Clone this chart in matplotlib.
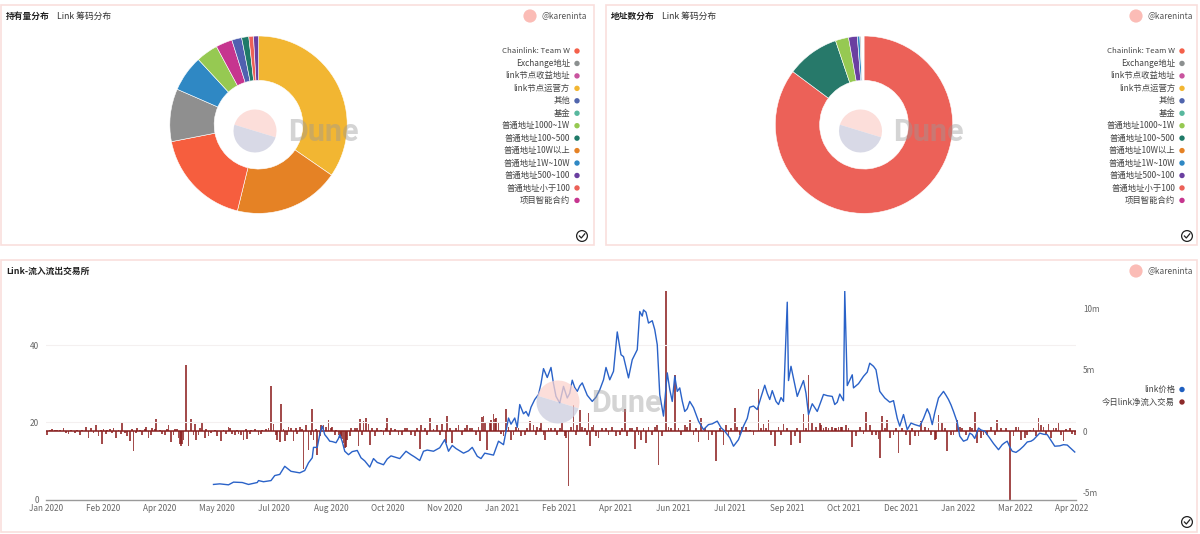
import matplotlib
matplotlib.use('Agg')
import matplotlib.pyplot as plt
from matplotlib.patches import Rectangle, Circle, Wedge

plt.rcParams['font.family'] = ['Noto Sans CJK SC', 'DejaVu Sans']

# ---------- data ----------
legend_names = ['Chainlink: Team W', 'Exchange地址', 'link节点收益地址', 'link节点运营方', '其他', '基金',
                '普通地址1000~1W', '普通地址100~500', '普通地址10W以上', '普通地址1W~10W',
                '普通地址500~100', '普通地址小于100', '项目智能合约']
legend_colors = ['#f4604a', '#8c9090', '#c9549f', '#f2b632', '#5065ad', '#58b89e', '#96c952',
                 '#1f7a68', '#e58225', '#2f88c4', '#6a3fa0', '#ec6158', '#c6358f']

pie1_values = [34.6, 19.2, 18.1, 9.6, 6.6, 4.0, 3.0, 1.8, 1.3, 0.85, 0.9]
pie1_colors = ['#f2b632', '#e58225', '#f65e3e', '#8f8f8f', '#2f88c4', '#96c952', '#c6358f',
               '#5060b0', '#1f7a68', '#ec6158', '#6a3fa0']
pie2_values = [85.2, 9.6, 2.4, 1.6, 0.45, 0.2, 0.55]
pie2_colors = ['#ec6158', '#27796a', '#96c952', '#6a3fa0', '#2f88c4', '#8f8f8f', '#ffffff']

x_tick_labels = ['Jan 2020', 'Feb 2020', 'Apr 2020', 'May 2020', 'Jul 2020', 'Aug 2020', 'Oct 2020',
                 'Nov 2020', 'Jan 2021', 'Feb 2021', 'Apr 2021', 'Jun 2021', 'Jul 2021', 'Sep 2021',
                 'Oct 2021', 'Dec 2021', 'Jan 2022', 'Mar 2022', 'Apr 2022']

price_day = [134, 139, 146, 150, 157, 162, 169, 170, 174, 180, 183, 187, 191, 196, 203, 207, 210, 213, 214, 217,
             219, 221, 223, 225, 227, 229, 232, 234, 235, 237, 239, 242, 245, 249, 252, 255, 259, 262, 265, 270, 273, 276, 279,
             283, 288, 292, 295, 299, 302, 305, 310, 315, 319,
             322, 325, 328, 334, 338, 341, 345, 348, 351, 355, 358, 362, 366, 370, 372, 375, 377, 379, 382, 384, 386, 388, 391, 394,
             396, 398, 401, 404, 406,
             408, 411, 414, 417, 419, 421, 423, 425, 427, 429, 433, 437, 440, 443, 446, 448, 451, 454, 457, 460, 462, 466, 469, 471, 473,
             475, 477, 478, 480,
             482, 485, 487, 489, 491, 494, 497, 499, 501, 503, 505, 507, 509, 511, 513, 515, 518, 522, 526, 530, 533, 537, 540, 543,
             547, 550, 554, 558, 561, 563, 566, 569,
             572, 575, 577, 579, 581, 584, 586, 588, 590, 593, 594, 596, 601, 603, 606, 608, 610, 613, 615, 617, 622, 625, 629, 631,
             633, 635, 638, 639,
             641, 645, 646, 650, 654, 657, 659, 662, 664, 667, 671, 675, 678, 681, 683, 686, 689, 692, 695, 699, 702, 705, 707, 709,
             711, 714, 718, 720, 722, 724, 726, 729,
             731, 734, 737, 739, 741, 743, 746, 748, 751, 755, 758, 762, 765, 767, 769, 771, 773, 776, 779, 782, 785, 788, 790, 795,
             798, 801, 804, 807, 811, 814, 817, 819, 821, 823]
price_val = [3.9, 4.05, 3.8, 4.5, 4.4, 3.9, 4.4, 4.9, 4.6, 4.9, 6.2, 6.5, 8.6, 7.3, 6.9, 7.5, 9.5, 10.8, 13.5, 13.5,
             16.8, 19.0, 16.8, 16.0, 15.1, 15.0, 14.7, 15.8, 16.8, 15.0, 12.5, 11.6, 12.4, 12.7, 10.8, 10.0, 8.4, 10.6, 9.6, 9.0, 10.5, 11.3, 11.0,
             10.6, 12.5, 11.6, 11.0, 10.1, 12.5, 12.8, 12.5, 13.4, 15.5,
             12.5, 14.0, 13.2, 12.0, 12.6, 13.5, 11.2, 10.6, 12.0, 11.7, 11.5, 15.1, 14.2, 21.1, 19.5, 21.1, 18.7, 24.6, 22.2, 22.8, 21.6, 23.9, 25.9, 27.2,
             30.0, 33.9, 31.6, 34.2, 30.0,
             26.7, 25.0, 29.3, 26.3, 27.5, 30.9, 29.0, 28.0, 29.4, 30.2, 27.0, 25.4, 26.5, 28.4, 31.0, 34.2, 31.0, 33.2, 43.4, 37.5, 37.0, 31.5, 36.2, 37.5, 38.8,
             48.7, 47.5, 49.1, 48.5,
             45.7, 46.3, 44.0, 40.1, 27.2, 21.6, 32.8, 28.5, 25.4, 31.9, 28.0, 28.9, 25.5, 22.8, 23.5, 25.4, 23.8, 20.3, 18.1, 19.4, 19.6, 20.3, 18.6, 17.7,
             16.0, 13.8, 15.5, 19.0, 21.0, 23.9, 24.2, 23.3,
             26.5, 29.6, 27.5, 25.9, 28.2, 25.4, 24.6, 26.4, 25.4, 51.1, 30.8, 34.5, 26.7, 28.4, 30.8, 27.5, 22.0, 24.8, 23.8, 22.8, 27.2, 26.9, 26.7, 24.6,
             25.2, 27.3, 25.6, 54.0,
             29.5, 32.3, 28.9, 30.0, 31.9, 33.0, 35.3, 34.5, 33.6, 28.0, 26.3, 25.2, 25.6, 21.0, 19.0, 22.0, 18.1, 19.8, 19.4, 19.0, 21.0, 23.5, 22.0, 19.4,
             22.5, 26.3, 28.0, 27.0, 25.9, 24.5, 22.8, 20.0,
             16.4, 15.1, 15.5, 17.2, 16.8, 15.8, 18.5, 18.0, 17.7, 15.9, 14.5, 12.9, 14.2, 14.7, 15.1, 13.6, 12.5, 12.2, 12.9, 13.8, 14.9, 15.1, 15.5, 17.2,
             16.9, 16.8, 15.3, 13.8, 13.9, 14.2, 14.1, 13.5, 12.9, 12.3]

flow_day = [1, 14, 18, 27, 32, 34, 36, 40, 42, 45, 46, 49, 54, 56, 61, 65, 67, 69, 70, 73, 75, 77, 80, 82, 85, 88, 91,
            98, 100, 103, 106, 107, 108, 109, 110, 112, 114, 116, 119, 120, 123, 125, 127, 130, 137, 140, 146, 147, 151,
            154, 158, 161, 164, 170, 173, 176, 180, 182, 185, 187, 188, 191, 194, 196, 198, 203, 206, 208, 210, 213, 214,
            217, 220, 222, 224, 226, 229, 232, 235, 236, 237, 238, 239, 240, 241, 244, 250, 251, 254, 256, 258, 259, 263,
            268, 273, 276, 282, 287, 292, 299, 300, 307, 313, 317, 320, 321, 325, 330, 337, 341, 347, 349, 350, 351, 353,
            355, 358, 359, 360, 364, 368, 372, 376, 380, 387, 390, 393, 396, 399, 402, 407, 413, 416, 418, 422, 425, 427,
            431, 434, 435, 438, 442, 448, 456, 463, 467, 471, 473, 476, 480, 482, 489, 490, 496, 500, 503, 506, 511, 515,
            522, 524, 530, 536, 542, 544, 548, 551, 557, 563, 570, 574, 578, 583, 590, 596, 603, 606, 610, 613, 619, 620,
            626, 629, 634, 637, 640, 645, 654, 656, 659, 664, 666, 667, 669, 673, 675, 682, 685, 691, 695, 700, 706, 711,
            712, 714, 717, 721, 729, 733, 739, 743, 745, 748, 753, 761, 768, 771, 776, 780, 783, 787, 794, 796, 802, 804,
            810, 814, 819, 823]
flow_m = [-0.25, 0.3, -0.2, -0.3, 0.4, -0.5, 0.27, 0.5, -0.4, -1.0, 0.2, 0.13, 0.27, -0.5, 0.65, -0.4, -0.75, 0.2, -1.6,
          0.3, 0.15, -0.3, 0.4, -0.5, 0.3, 1.0, 0.13, 0.5, -0.85, 0.2, -0.5, -1.0, -1.2, -1.0, -0.7, 5.4, -1.2, 1.05, 0.6,
          -0.7, 0.3, 0.8, -0.5, -0.4, -0.4, -0.8, 0.4, 0.27, -0.3, -0.2, -0.7, -0.6, 0.15, -0.3, 0.13, 0.2, 3.7, 0.6, -0.7,
          -0.85, 2.2, -0.75, 0.4, 0.27, -0.8, 0.4, -3.05, 0.55, -1.5, 1.85, -0.7, -1.9, 0.5, 0.55, 0.4, 0.95, 0.4, 0.15,
          -0.5, -0.4, -0.6, -0.95, -1.35, -1.3, -0.7, 0.3, -1.2, 1.03, 0.85, 1.13, 0.6, -1.1, -0.4, 0.15, 1.08, 0.27, -0.3,
          0.3, -0.3, -1.4, 0.55, 1.08, 0.5, 0.6, -0.95, 1.25, -0.95, 0.55, 0.5, 0.27, -0.8, 1.2, 1.27, 0.8, -1.5, 0.68, 1.43,
          1.0, 1.08, -0.2, 1.8, -0.68, 0.4, -0.4, 0.87, 0.55, 0.4, 0.68, -0.7, 0.3, 0.27, 0.68, -0.55, -4.46, 2.16, 0.5, 1.73,
          0.3, 1.5, -1.2, 0.5, -0.5, 0.27, -0.4, 1.84, 0.27, -1.4, 0.4, -0.68, -0.95, 0.4, 0.55, -2.7, 11.4, 0.3, 4.6, 0.27,
          0.55, 0.95, -0.86, 1.08, -0.68, -2.38, -1.08, 0.55, 0.3, 1.9, 0.4, 0.1, 3.43, 0.6, 0.9, -1.2, 0.6, -1.08, -0.95, 1.43,
          4.6, 0.8, 0.68, 0.5, 0.3, 0.4, 0.4, 0.4, 0.5, -1.3, -0.2, 1.6, 0.55, -0.3, -0.6, -2.16, 1.27, 0.9, -0.5, -1.76, 0.3,
          -1.08, -0.4, 0.87, 0.27, -0.68, -0.6, 1.35, 0.68, -1.62, 0.9, 0.27, 0.4, 1.57, -0.95, -0.5, -0.3, 0.95, 0.3, -5.55,
          0.4, -0.68, -0.5, 0.13, 1.08, 0.55, 0.6, -0.5, 0.73, -0.8, 0.3, -0.3]

# smaller daily bars
small_day = [3, 5, 7, 9, 11, 16, 20, 23, 25, 29, 38, 44, 48, 51, 53, 58, 60, 63, 72, 79, 84, 87, 93, 95, 97, 102, 105, 118,
             122, 128, 132, 135, 142, 144, 149, 153, 156, 160, 163, 167, 172, 178, 184, 190, 193, 200, 201, 205, 212, 216,
             219, 228, 231, 234, 243, 247, 249, 253, 261, 265, 270, 272, 275, 279, 285, 289, 295, 297, 303, 305, 310, 315,
             323, 328, 333, 335, 339, 344, 346, 356, 362, 366, 370, 374, 378, 383, 385, 392, 395, 398, 404, 409, 411, 415,
             420, 424, 429, 433, 437, 440, 445, 450, 453, 459, 461, 465, 469, 474, 478, 485, 487, 493, 498, 508, 513, 518,
             520, 527, 533, 539, 546, 553, 555, 560, 566, 572, 576, 580, 586, 588, 593, 599, 601, 608, 616, 622, 624, 631,
             632, 636, 642, 648, 651, 661, 671, 678, 680, 688, 693, 698, 703, 708, 719, 724, 726, 731, 736, 741, 750, 756,
             759, 764, 774, 778, 785, 790, 792, 798, 800, 806, 808, 812, 816, 821]
small_m = [0.1, 0.2, 0.15, 0.15, 0.1, -0.15, 0.1, -0.1, 0.15, 0.12, -0.15, 0.12, -0.2, 0.2, -0.15, 0.15, -0.2, -0.15, -0.12, 0.2,
           -0.25, 0.2, -0.2, -0.3, 0.2, -0.25, 0.2, -0.25, -0.3, 0.2, -0.15, 0.1, 0.15, -0.2, -0.2, 0.15, -0.3, 0.2, -0.2, 0.2, -0.2,
           0.25, -0.3, 0.2, -0.25, 0.3, -0.2, 0.2, -0.3, 0.2, -0.4, 0.3, -0.25, -0.3, -0.4, 0.25, 0.3, -0.3, 0.25, 0.3, -0.25, 0.3, -0.3,
           0.2, -0.3, 0.25, -0.35, 0.3, 0.25, -0.3, 0.2, -0.3, 0.3, 0.25, -0.3, 0.3, 0.25, -0.3, 0.35, 0.9, 0.7, -0.35, 0.4, -0.3, 0.3,
           -0.3, 0.25, -0.3, 0.25, -0.3, 0.3, -0.25, 0.25, -0.4, 0.4, -0.3, 0.35, -0.25, 0.4, -0.4, 0.3, -0.25, 0.4, -0.3, 0.3, -0.35,
           0.3, -0.3, 0.25, -0.3, 0.35, -0.4, 0.35, -0.3, 0.35, -0.3, 0.3, 0.25, -0.3, 0.3, -0.4, 0.35, -0.3, 0.35, -0.3, 0.25, 0.3, -0.3,
           0.35, -0.25, 0.3, -0.4, 0.3, 0.3, 0.35, 0.3, 0.35, 0.3, 0.3, 0.35, 0.3, -0.35, 0.35, -0.3, 0.3, -0.3, 0.25, -0.3, 0.3, -0.35,
           0.4, -0.3, 0.3, -0.3, -0.25, 0.35, -0.3, 0.3, -0.3, 0.35, -0.3, 0.3, -0.35, 0.35, -0.3, 0.3, -0.35, 0.35, -0.3, 0.3, 0.3, -0.25,
           0.2, -0.2]

# ---------- canvas ----------
W, H = 1200, 534
fig = plt.figure(figsize=(W / 100, H / 100), dpi=100, facecolor='white')


def Y(y):
    return H - y


bg = fig.add_axes([0, 0, 1, 1], zorder=0)
bg.set_xlim(0, W); bg.set_ylim(0, H); bg.axis('off')
fg = fig.add_axes([0, 0, 1, 1], zorder=20)
fg.set_xlim(0, W); fg.set_ylim(0, H); fg.axis('off'); fg.patch.set_alpha(0)

BORDER = '#f9dfdd'
for x0, y0, x1, y1 in [(1, 5, 594, 245), (606, 5, 1197, 245), (1, 260, 1197, 532)]:
    bg.add_patch(Rectangle((x0, Y(y1)), x1 - x0, y1 - y0, fc='white', ec=BORDER, lw=1.2))


def header(x, y, bold, rest, rest_x):
    fg.text(x, Y(y), bold, fontsize=6.3, fontweight='bold', color='#222222', va='center', ha='left')
    if rest:
        fg.text(rest_x, Y(y), rest, fontsize=6.3, color='#333333', va='center', ha='left')


def avatar(cx, cy):
    fg.add_patch(Circle((cx, Y(cy)), 6.6, fc='#fbbcb6', ec='none'))
    fg.text(cx + 12, Y(cy), '@kareninta', fontsize=6.0, color='#555555', va='center', ha='left')


def check(cx, cy):
    fg.add_patch(Circle((cx, Y(cy)), 5.4, fc='white', ec='#222222', lw=0.9))
    fg.plot([cx - 2.6, cx - 0.7, cx + 2.8], [Y(cy), Y(cy + 2), Y(cy - 2.2)], color='#222222', lw=0.9)


def watermark(cx, cy, tx):
    fg.add_patch(Wedge((cx, Y(cy)), 21.5, -17, 163, fc='#fbd3ce', ec='none', alpha=0.75))
    fg.add_patch(Wedge((cx, Y(cy)), 21.5, 163, 343, fc='#cfd0e0', ec='none', alpha=0.8))
    fg.text(tx, Y(cy + 1), 'Dune', fontsize=22, fontweight='bold', family='Roboto', color='#999999',
            alpha=0.42, va='center', ha='left')


header(6, 16, '持有量分布', 'Link 筹码分布', 57)
header(611, 16, '地址数分布', 'Link 筹码分布', 662)
header(6, 271, 'Link-流入流出交易所', '', 0)
avatar(530, 16); avatar(1136, 16); avatar(1136, 271)
check(582, 236); check(1187, 236); check(1187, 522)

# ---------- pies ----------
for vals, cols, cx in [(pie1_values, pie1_colors, 258.5), (pie2_values, pie2_colors, 864)]:
    cy, r = 124.7, 88.7
    a = fig.add_axes([(cx - r) / W, (H - cy - r) / H, 2 * r / W, 2 * r / H], zorder=5)
    a.pie(vals, colors=cols, startangle=90, counterclock=False, radius=1,
          wedgeprops=dict(width=0.5, edgecolor='white', linewidth=0.4))
    a.set_xlim(-1, 1); a.set_ylim(-1, 1)

# pie legends
for right in (570, 1175):
    for i, (name, col) in enumerate(zip(legend_names, legend_colors)):
        yy = 51 + i * 12.45
        size = 5.6 if name.startswith('Chainlink') else 6.0
        fg.text(right, Y(yy), name, fontsize=size, color='#444444', va='center', ha='right')
        fg.add_patch(Circle((right + 7, Y(yy)), 2.7, fc=col, ec='none'))

# ---------- bottom chart ----------
L, R, T, B = 46, 1076, 291, 499.5
ax = fig.add_axes([L / W, (H - B) / H, (R - L) / W, (B - T) / H], zorder=6)
ax2 = ax.twinx()
ax.set_zorder(ax2.get_zorder() + 1)
ax.patch.set_alpha(0)
ax.set_xlim(0, 824)
ax.set_ylim(0, 54)
ax2.set_ylim(-5.53, 11.42)

ax2.axhline(0, color='#8c2a2a', lw=1.3, alpha=0.9, zorder=1)
ax2.bar(flow_day + small_day, flow_m + small_m, width=1.3, color='#8c1f1f', alpha=0.8, linewidth=0, zorder=2)
ax.plot(price_day, price_val, color='#2a62c8', lw=1.0, solid_joinstyle='round', zorder=3)

ax.set_yticks([0, 20, 40])
ax.set_xticks([i * 45.6 for i in range(len(x_tick_labels))])
ax.set_xticklabels(x_tick_labels)
ax2.set_yticks([-5, 0, 5, 10])
ax2.set_yticklabels(['-5m', '0', '5m', '10m'])
ax.grid(axis='y', color='#f4f0f0', lw=0.8)
ax.set_axisbelow(True)
for a in (ax, ax2):
    for s in a.spines.values():
        s.set_visible(False)
ax2.spines['bottom'].set_visible(True)
ax2.spines['bottom'].set_color('#9a9a9a')
ax2.spines['bottom'].set_linewidth(1.0)
ax.tick_params(axis='both', length=0, labelsize=5.9, labelcolor='#666666')
ax.tick_params(axis='x', pad=3)
ax.tick_params(axis='y', pad=5)
ax2.tick_params(axis='y', length=0, labelsize=5.9, labelcolor='#666666', pad=5)

for yy, name, col in [(389.5, 'link价格', '#1f5fc0'), (402, '今日link净流入交易', '#8c2a2a')]:
    fg.text(1175, Y(yy), name, fontsize=6.0, color='#444444', va='center', ha='right')
    fg.add_patch(Circle((1182, Y(yy)), 2.7, fc=col, ec='none'))

watermark(255, 131, 288)
watermark(860.5, 131, 893)
watermark(558, 402, 591)

fig.savefig('out.png', dpi=100)
